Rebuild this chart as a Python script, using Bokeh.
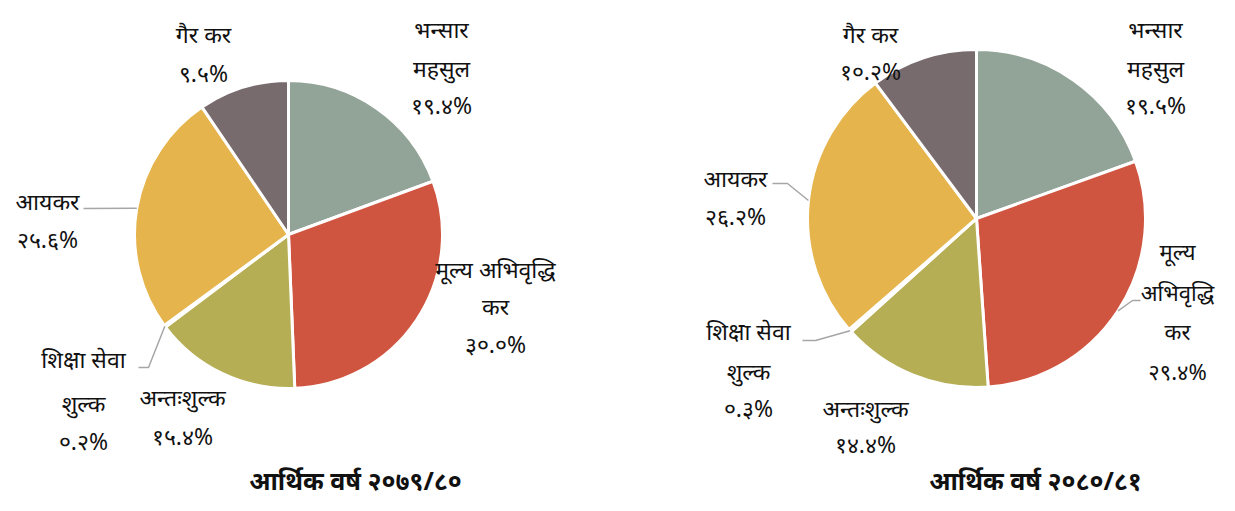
import math
from bokeh.plotting import figure
from bokeh.models import Range1d
from bokeh.core.properties import value
from bokeh.embed import file_html
from bokeh.resources import INLINE

categories = ["भन्सार महसुल", "मूल्य अभिवृद्धि कर", "अन्तःशुल्क", "शिक्षा सेवा शुल्क", "आयकर", "गैर कर"]
colors = ["#92A397", "#D05540", "#B6AE55", "#D9D9D9", "#E6B44C", "#786B6E"]
values_7980 = [19.4, 30.0, 15.4, 0.2, 25.6, 9.5]
values_8081 = [19.5, 29.4, 14.4, 0.3, 26.2, 10.2]
pct_7980 = ["१९.४%", "३०.०%", "१५.४%", "०.२%", "२५.६%", "९.५%"]
pct_8081 = ["१९.५%", "२९.४%", "१४.४%", "०.३%", "२६.२%", "१०.२%"]
title_7980 = "आर्थिक वर्ष २०७९/८०"
title_8081 = "आर्थिक वर्ष २०८०/८१"

W, H = 1219, 495
FONT = "Noto Sans"
FS = "23px"

p = figure(width=W, height=H, output_backend="svg", toolbar_location=None,
           x_range=Range1d(0, W), y_range=Range1d(0, H),
           min_border=0)
p.axis.visible = False
p.grid.visible = False
p.outline_line_color = None
p.background_fill_color = "white"


def Y(y):
    return H - y


def draw_pie(cx, cy, r, vals):
    total = sum(vals)
    a = math.pi / 2
    starts, ends, mids = [], [], []
    for v in vals:
        span = 2 * math.pi * v / total
        starts.append(a - span)
        ends.append(a)
        mids.append(a - span / 2)
        a -= span
    p.wedge(x=[cx] * len(vals), y=[Y(cy)] * len(vals), radius=r,
            start_angle=starts, end_angle=ends, fill_color=colors,
            line_color="white", line_width=3)
    return mids


def edge(cx, cy, r, ang):
    return cx + r * math.cos(ang), Y(cy) + r * math.sin(ang)


def label(lines, x, ys, bold=False, size=FS):
    p.text(x=[x] * len(lines), y=[Y(y) for y in ys], text=lines,
           text_font=value(FONT), text_font_size=size, text_align="center",
           text_baseline="middle", text_color="#111111",
           text_font_style="bold" if bold else "normal")


GRAY = "#A6A6A6"

# Left pie
cx1, cy1, r1 = 288, 234, 154
m1 = draw_pie(cx1, cy1, r1, values_7980)
label(["भन्सार", "महसुल", pct_7980[0]], 441, [28, 67, 104])
label(["मूल्य अभिवृद्धि", "कर", pct_7980[1]], 495, [268, 305, 343])
label(["अन्तःशुल्क", pct_7980[2]], 182, [396, 435])
label(["शिक्षा सेवा", "शुल्क", pct_7980[3]], 83, [358, 402, 440])
label(["आयकर", pct_7980[4]], 47, [200, 238])
label(["गैर कर", pct_7980[5]], 203, [33, 72])
ex, ey = edge(cx1, cy1, r1, m1[4])
p.line([83, ex], [Y(208), ey], line_color=GRAY, line_width=1.5)
ex, ey = edge(cx1, cy1, r1, m1[3])
p.line([138, 148, ex], [Y(367), Y(367), ey], line_color=GRAY, line_width=1.5)
label([title_7980], 355, [479], bold=True, size="25px")

# Right pie
cx2, cy2, r2 = 976, 218, 169
m2 = draw_pie(cx2, cy2, r2, values_8081)
label(["भन्सार", "महसुल", pct_8081[0]], 1155, [28, 67, 104])
label(["मूल्य", "अभिवृद्धि", "कर", pct_8081[1]], 1177, [250, 291, 330, 370], size="22px")
label(["अन्तःशुल्क", pct_8081[2]], 865, [407, 443])
label(["शिक्षा सेवा", "शुल्क", pct_8081[3]], 748, [330, 370, 407])
label(["आयकर", pct_8081[4]], 735, [177, 215])
label(["गैर कर", pct_8081[5]], 870, [33, 70])
ex, ey = edge(cx2, cy2, r2, m2[1])
p.line([1140, 1132, ex], [Y(300), Y(300), ey], line_color=GRAY, line_width=1.5)
ex, ey = edge(cx2, cy2, r2, m2[4])
p.line([772, 787, ex], [Y(183), Y(183), ey], line_color=GRAY, line_width=1.5)
ex, ey = edge(cx2, cy2, r2, m2[3])
p.line([802, 815, ex], [Y(340), Y(340), ey], line_color=GRAY, line_width=1.5)
label([title_8081], 1035, [479], bold=True, size="25px")

open("out.html", "w").write(file_html(p, INLINE))
